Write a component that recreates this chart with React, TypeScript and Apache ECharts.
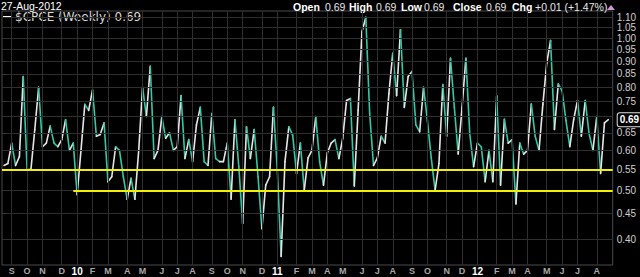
import React, { useEffect, useRef } from "react";
import * as echarts from "echarts";

// Weekly $CPCE values, week of 24-Aug-2009 through week of 27-Aug-2012
const startDate = "2009-08-24";
const cpceValues: number[] = [
  0.56, 0.565, 0.62, 0.56, 0.583, 0.84, 0.55, 0.55, 0.66, 0.8,
  0.61, 0.62, 0.67, 0.62, 0.61, 0.63, 0.69, 0.6, 0.62, 0.49,
  0.6, 0.74, 0.72, 0.79, 0.64, 0.645, 0.68, 0.52, 0.532, 0.61,
  0.6, 0.532, 0.48, 0.528, 0.48, 0.6, 0.8, 0.7, 0.88, 0.578,
  0.6, 0.7, 0.634, 0.65, 0.6, 0.61, 0.77, 0.578, 0.63, 0.57,
  0.674, 0.73, 0.57, 0.56, 0.71, 0.578, 0.57, 0.57, 0.62, 0.48,
  0.69, 0.557, 0.43, 0.668, 0.578, 0.66, 0.532, 0.42, 0.512, 0.532,
  0.73, 0.55, 0.37, 0.57, 0.668, 0.643, 0.54, 0.62, 0.5, 0.58,
  0.6, 0.7, 0.57, 0.512, 0.593, 0.62, 0.63, 0.578, 0.634, 0.753,
  0.76, 0.51, 0.72, 1.03, 1.1, 0.71, 0.56, 0.58, 0.64, 0.62,
  0.778, 0.934, 0.77, 1.04, 0.73, 0.84, 0.86, 0.674, 0.653, 0.8,
  0.687, 0.58, 0.5, 0.565, 0.81, 0.64, 0.913, 0.73, 0.59, 0.73,
  0.913, 0.648, 0.557, 0.62, 0.61, 0.52, 0.6, 0.52, 0.769, 0.512,
  0.691, 0.62, 0.63, 0.47, 0.62, 0.59, 0.6, 0.741, 0.64, 0.6,
  0.74, 0.892, 0.99, 0.66, 0.812, 0.787, 0.687, 0.61, 0.69, 0.753,
  0.64, 0.753, 0.648, 0.6, 0.7, 0.54, 0.68, 0.69,
];

const yTickValues = [0.4, 0.45, 0.5, 0.55, 0.6, 0.65, 0.7, 0.75, 0.8, 0.85, 0.9, 0.95, 1.0, 1.05, 1.1];
const hiddenTickLabels = [0.7];
const monthLetters = ["J", "F", "M", "A", "M", "J", "J", "A", "S", "O", "N", "D"];
const supportFull = 0.55;
const supportPartial = 0.5;
const supportPartialStartWeek = 18;
const lastValue = 0.69;

const headerDate = "27-Aug-2012";
const headerLabels = ["Open", "High", "Low", "Close", "Chg"];
const headerValues = ["0.69", "0.69", "0.69", "0.69", "+0.01 (+1.47%)"];

const TEAL = "#34c8a6";
const WHITE = "#e6e6e6";
const GRID = "#2f2f2f";
const X_MIN = -0.52;
const X_MAX = 158.14;
const FONT = "Arial, Liberation Sans, sans-serif";

export default function App() {
  const ref = useRef<HTMLDivElement>(null);

  useEffect(() => {
    if (!ref.current) return;
    const chart = echarts.init(ref.current, null, { renderer: "svg" });

    const start = new Date(startDate + "T00:00:00Z").getTime();
    const dates = cpceValues.map((_, i) => new Date(start + i * 7 * 86400000));

    const monthMarks: any[] = [];
    for (let i = 1; i < dates.length; i++) {
      if (dates[i].getUTCMonth() !== dates[i - 1].getUTCMonth()) {
        const m = dates[i].getUTCMonth();
        const isYear = m === 0;
        monthMarks.push({
          xAxis: i,
          label: {
            position: "start",
            distance: 1,
            formatter: isYear ? String(dates[i].getUTCFullYear()).slice(2) : monthLetters[m],
            color: isYear ? "#ffffff" : "#a8a8a8",
            fontSize: isYear ? 10 : 9,
            fontWeight: "bold",
          },
        });
      }
    }

    const hMarks = yTickValues.map((v) => ({
      yAxis: v,
      label: {
        show: !hiddenTickLabels.includes(v),
        formatter: v.toFixed(2),
      },
    }));

    const segData = cpceValues.slice(1).map((v, k) => [k + 1, cpceValues[k], v]);

    // header pieces (x positions of each label / value)
    const labelX = [293, 349, 401, 453, 512];
    const valueX = [325, 376, 424, 486, 535];
    const headerGraphics: any[] = [];
    headerLabels.forEach((lab, k) => {
      headerGraphics.push({
        type: "text",
        x: labelX[k],
        y: 1,
        style: { text: lab, fill: "#ffffff", font: "bold 10.5px Arial, sans-serif" },
      });
      headerGraphics.push({
        type: "text",
        x: valueX[k],
        y: 1,
        style: { text: headerValues[k], fill: "#e8e8e8", font: "10.5px Arial, sans-serif" },
      });
    });
    headerGraphics.push({
      type: "polygon",
      shape: { points: [[607, 10], [615, 10], [611, 5]] },
      style: { fill: "#c99bd6" },
    });

    chart.setOption({
      animation: false,
      backgroundColor: "#000",
      grid: {
        left: 2,
        right: 27.3,
        top: 11,
        bottom: 12,
        show: true,
        borderColor: "#4a4a4a",
        borderWidth: 1,
        backgroundColor: "#000",
      },
      xAxis: { type: "value", min: X_MIN, max: X_MAX, show: false },
      yAxis: { type: "log", logBase: 10, min: 0.3558, max: 1.1325, show: false },
      graphic: [
        {
          type: "text",
          x: 1,
          y: 0,
          style: { text: headerDate, fill: "#ffffff", font: "10.5px Arial, sans-serif" },
        },
        ...headerGraphics,
        {
          type: "rect",
          shape: { x: 3, y: 16, width: 9, height: 2 },
          style: { fill: "#ffffff" },
        },
        {
          type: "text",
          x: 15,
          y: 11,
          style: {
            text: "$CPCE (Weekly) 0.69",
            fill: "#d8d8d8",
            font: "12px DejaVu Sans, sans-serif",
          },
        },
      ],
      series: [
        {
          type: "line",
          z: 1,
          data: cpceValues.map((v, i) => [i, v]),
          showSymbol: false,
          lineStyle: { opacity: 0 },
          silent: true,
          markLine: {
            silent: true,
            symbol: ["none", "none"],
            animation: false,
            lineStyle: { color: GRID, width: 1, type: "solid" },
            label: {
              position: "end",
              distance: 4,
              color: "#cfcfcf",
              fontSize: 10,
              fontFamily: FONT,
            },
            emphasis: { disabled: true },
            data: [...hMarks, ...monthMarks],
          },
        },
        {
          type: "custom",
          z: 3,
          clip: true,
          silent: true,
          data: segData,
          encode: { x: 0, y: 2 },
          renderItem: (_params: any, api: any) => {
            const i = api.value(0);
            const a = api.value(1);
            const b = api.value(2);
            const p0 = api.coord([i - 1, a]);
            const p1 = api.coord([i, b]);
            return {
              type: "line",
              shape: { x1: p0[0], y1: p0[1], x2: p1[0], y2: p1[1] },
              style: { stroke: b >= a ? WHITE : TEAL, lineWidth: 1.6, lineCap: "round" },
            };
          },
        },
        {
          type: "line",
          z: 5,
          data: [],
          silent: true,
          markLine: {
            silent: true,
            symbol: ["none", "none"],
            animation: false,
            emphasis: { disabled: true },
            lineStyle: { color: "#f2f200", width: 2, type: "solid" },
            label: { show: false },
            data: [
              { yAxis: supportFull },
              [{ coord: [supportPartialStartWeek, supportPartial] }, { coord: [X_MAX, supportPartial] }],
              {
                yAxis: lastValue,
                lineStyle: { color: "rgba(0,0,0,0)", width: 0 },
                label: {
                  show: true,
                  position: "end",
                  distance: 5,
                  formatter: lastValue.toFixed(2),
                  color: "#ffffff",
                  fontWeight: "bold",
                  fontSize: 10,
                  fontFamily: FONT,
                  backgroundColor: "#000",
                  borderColor: "#e0e0e0",
                  borderWidth: 1,
                  borderRadius: 2,
                  padding: [2, 2, 1, 2],
                },
              },
            ],
          },
        },
      ],
    });

    return () => chart.dispose();
  }, []);

  return (
    <div
      ref={ref}
      style={{ position: "fixed", left: 0, top: 0, width: 640, height: 277, background: "#000" }}
    />
  );
}
